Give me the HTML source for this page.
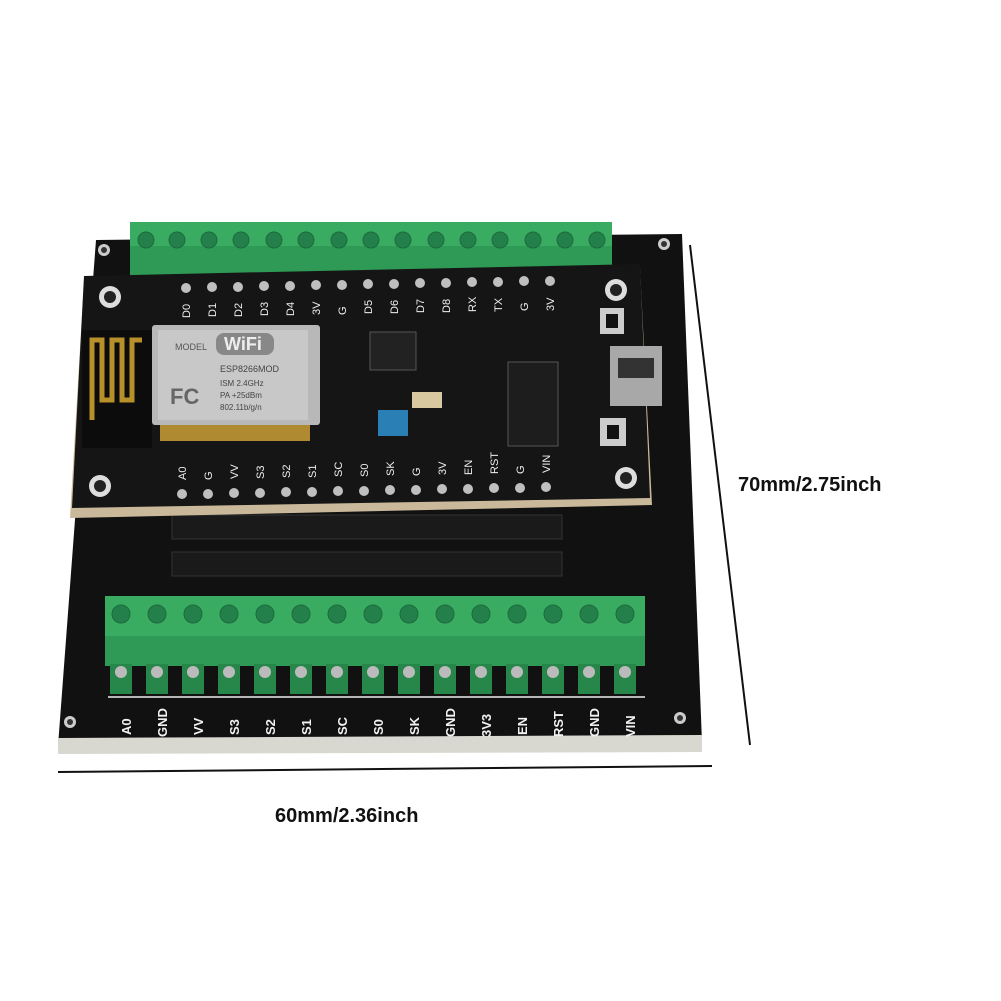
<!DOCTYPE html>
<html><head><meta charset="utf-8"><style>
html,body{margin:0;padding:0;background:#fff;}
svg{display:block}
text{font-family:"Liberation Sans",sans-serif;}
</style></head><body>
<svg width="1001" height="1001" viewBox="0 0 1001 1001" xmlns="http://www.w3.org/2000/svg">
<rect width="1001" height="1001" fill="#fff"/>
<!-- carrier board -->
<polygon points="96,240 682,234 702,742 58,746" fill="#111"/>
<polygon points="58,738 702,735 702,752 58,754" fill="#d8d8d0"/>
<circle cx="104" cy="250" r="6" fill="#ccc"/><circle cx="104" cy="250" r="3" fill="#333"/>
<circle cx="664" cy="244" r="6" fill="#ccc"/><circle cx="664" cy="244" r="3" fill="#333"/>
<circle cx="70" cy="722" r="6" fill="#ccc"/><circle cx="70" cy="722" r="3" fill="#333"/>
<circle cx="680" cy="718" r="6" fill="#ccc"/><circle cx="680" cy="718" r="3" fill="#333"/>
<!-- female headers -->
<rect x="172" y="515" width="390" height="24" fill="#1a1a1a" stroke="#333"/>
<rect x="172" y="552" width="390" height="24" fill="#1a1a1a" stroke="#333"/>
<!-- top terminal block -->
<rect x="130" y="222" width="482" height="56" fill="#2e9a55"/>
<rect x="130" y="222" width="482" height="24" fill="#3aac62"/>
<g fill="#24804a" stroke="#1c6a3c">
<circle cx="146" cy="240" r="8"/><circle cx="177" cy="240" r="8"/><circle cx="209" cy="240" r="8"/><circle cx="241" cy="240" r="8"/><circle cx="274" cy="240" r="8"/><circle cx="306" cy="240" r="8"/><circle cx="339" cy="240" r="8"/><circle cx="371" cy="240" r="8"/><circle cx="403" cy="240" r="8"/><circle cx="436" cy="240" r="8"/><circle cx="468" cy="240" r="8"/><circle cx="500" cy="240" r="8"/><circle cx="533" cy="240" r="8"/><circle cx="565" cy="240" r="8"/><circle cx="597" cy="240" r="8"/>
</g>
<!-- NodeMCU board -->
<polygon points="84,280 640,268 652,505 70,518" fill="#c9b99a"/>
<polygon points="84,276 640,264 650,498 72,508" fill="#151515"/>
<circle cx="110" cy="297" r="11" fill="#ddd"/><circle cx="110" cy="297" r="6" fill="#222"/>
<circle cx="616" cy="290" r="11" fill="#ddd"/><circle cx="616" cy="290" r="6" fill="#222"/>
<circle cx="100" cy="486" r="11" fill="#ddd"/><circle cx="100" cy="486" r="6" fill="#222"/>
<circle cx="626" cy="478" r="11" fill="#ddd"/><circle cx="626" cy="478" r="6" fill="#222"/>
<!-- antenna -->
<rect x="82" y="330" width="70" height="118" fill="#0c0c0c"/>
<path d="M92,420 v-80 h10 v60 h10 v-60 h10 v60 h10 v-60 h10" stroke="#b8902a" stroke-width="5" fill="none"/>
<!-- ESP module -->
<rect x="152" y="325" width="168" height="100" fill="#b8b8b8" rx="3"/>
<rect x="158" y="330" width="150" height="90" fill="#c8c8c8"/>
<text x="175" y="350" font-size="9" fill="#555">MODEL</text>
<rect x="216" y="333" width="58" height="22" rx="8" fill="#888"/>
<text x="224" y="350" font-size="18" font-weight="bold" fill="#eee">WiFi</text>
<text x="220" y="372" font-size="9" fill="#444">ESP8266MOD</text>
<text x="220" y="386" font-size="8" fill="#444">ISM 2.4GHz</text>
<text x="220" y="398" font-size="8" fill="#444">PA +25dBm</text>
<text x="220" y="410" font-size="8" fill="#444">802.11b/g/n</text>
<text x="170" y="404" font-size="22" font-weight="bold" fill="#666">FC</text>
<g fill="#b08a30"><rect x="160" y="425" width="150" height="16"/></g>
<!-- chips -->
<rect x="370" y="332" width="46" height="38" fill="#222" stroke="#555"/>
<rect x="508" y="362" width="50" height="84" fill="#1d1d1d" stroke="#555"/>
<rect x="610" y="346" width="52" height="60" fill="#a8a8a8"/>
<rect x="618" y="358" width="36" height="20" fill="#333"/>
<rect x="600" y="308" width="24" height="26" fill="#ccc"/><rect x="606" y="314" width="12" height="14" fill="#111"/>
<rect x="600" y="418" width="26" height="28" fill="#ccc"/><rect x="607" y="425" width="12" height="14" fill="#111"/>
<rect x="378" y="410" width="30" height="26" fill="#2a7fb5"/>
<rect x="412" y="392" width="30" height="16" fill="#d8c8a0"/>
<!-- header pins -->
<g fill="#bfbfbf">
<circle cx="186" cy="288" r="5"/><circle cx="212" cy="287" r="5"/><circle cx="238" cy="287" r="5"/><circle cx="264" cy="286" r="5"/><circle cx="290" cy="286" r="5"/><circle cx="316" cy="285" r="5"/><circle cx="342" cy="285" r="5"/><circle cx="368" cy="284" r="5"/><circle cx="394" cy="284" r="5"/><circle cx="420" cy="283" r="5"/><circle cx="446" cy="283" r="5"/><circle cx="472" cy="282" r="5"/><circle cx="498" cy="282" r="5"/><circle cx="524" cy="281" r="5"/><circle cx="550" cy="281" r="5"/>
<circle cx="182" cy="494" r="5"/><circle cx="208" cy="494" r="5"/><circle cx="234" cy="493" r="5"/><circle cx="260" cy="493" r="5"/><circle cx="286" cy="492" r="5"/><circle cx="312" cy="492" r="5"/><circle cx="338" cy="491" r="5"/><circle cx="364" cy="491" r="5"/><circle cx="390" cy="490" r="5"/><circle cx="416" cy="490" r="5"/><circle cx="442" cy="489" r="5"/><circle cx="468" cy="489" r="5"/><circle cx="494" cy="488" r="5"/><circle cx="520" cy="488" r="5"/><circle cx="546" cy="487" r="5"/>
</g>
<g font-size="11" fill="#eee">
<text transform="translate(190,318) rotate(-90)">D0</text><text transform="translate(216,317) rotate(-90)">D1</text><text transform="translate(242,317) rotate(-90)">D2</text><text transform="translate(268,316) rotate(-90)">D3</text><text transform="translate(294,316) rotate(-90)">D4</text><text transform="translate(320,315) rotate(-90)">3V</text><text transform="translate(346,315) rotate(-90)">G</text><text transform="translate(372,314) rotate(-90)">D5</text><text transform="translate(398,314) rotate(-90)">D6</text><text transform="translate(424,313) rotate(-90)">D7</text><text transform="translate(450,313) rotate(-90)">D8</text><text transform="translate(476,312) rotate(-90)">RX</text><text transform="translate(502,312) rotate(-90)">TX</text><text transform="translate(528,311) rotate(-90)">G</text><text transform="translate(554,311) rotate(-90)">3V</text>
<text transform="translate(186,480) rotate(-90)">A0</text><text transform="translate(212,480) rotate(-90)">G</text><text transform="translate(238,479) rotate(-90)">VV</text><text transform="translate(264,479) rotate(-90)">S3</text><text transform="translate(290,478) rotate(-90)">S2</text><text transform="translate(316,478) rotate(-90)">S1</text><text transform="translate(342,477) rotate(-90)">SC</text><text transform="translate(368,477) rotate(-90)">S0</text><text transform="translate(394,476) rotate(-90)">SK</text><text transform="translate(420,476) rotate(-90)">G</text><text transform="translate(446,475) rotate(-90)">3V</text><text transform="translate(472,475) rotate(-90)">EN</text><text transform="translate(498,474) rotate(-90)">RST</text><text transform="translate(524,474) rotate(-90)">G</text><text transform="translate(550,473) rotate(-90)">VIN</text>
</g>
<!-- bottom terminal block -->
<rect x="105" y="596" width="540" height="42" fill="#3aac62"/>
<rect x="105" y="636" width="540" height="30" fill="#2f9a55"/>
<g fill="#27864a">
<rect x="110" y="664" width="22" height="30"/><rect x="146" y="664" width="22" height="30"/><rect x="182" y="664" width="22" height="30"/><rect x="218" y="664" width="22" height="30"/><rect x="254" y="664" width="22" height="30"/><rect x="290" y="664" width="22" height="30"/><rect x="326" y="664" width="22" height="30"/><rect x="362" y="664" width="22" height="30"/><rect x="398" y="664" width="22" height="30"/><rect x="434" y="664" width="22" height="30"/><rect x="470" y="664" width="22" height="30"/><rect x="506" y="664" width="22" height="30"/><rect x="542" y="664" width="22" height="30"/><rect x="578" y="664" width="22" height="30"/><rect x="614" y="664" width="22" height="30"/>
</g>
<g fill="#24804a" stroke="#1c6a3c">
<circle cx="121" cy="614" r="9"/><circle cx="157" cy="614" r="9"/><circle cx="193" cy="614" r="9"/><circle cx="229" cy="614" r="9"/><circle cx="265" cy="614" r="9"/><circle cx="301" cy="614" r="9"/><circle cx="337" cy="614" r="9"/><circle cx="373" cy="614" r="9"/><circle cx="409" cy="614" r="9"/><circle cx="445" cy="614" r="9"/><circle cx="481" cy="614" r="9"/><circle cx="517" cy="614" r="9"/><circle cx="553" cy="614" r="9"/><circle cx="589" cy="614" r="9"/><circle cx="625" cy="614" r="9"/>
</g>
<g fill="#bbb"><circle cx="121" cy="672" r="6"/><circle cx="157" cy="672" r="6"/><circle cx="193" cy="672" r="6"/><circle cx="229" cy="672" r="6"/><circle cx="265" cy="672" r="6"/><circle cx="301" cy="672" r="6"/><circle cx="337" cy="672" r="6"/><circle cx="373" cy="672" r="6"/><circle cx="409" cy="672" r="6"/><circle cx="445" cy="672" r="6"/><circle cx="481" cy="672" r="6"/><circle cx="517" cy="672" r="6"/><circle cx="553" cy="672" r="6"/><circle cx="589" cy="672" r="6"/><circle cx="625" cy="672" r="6"/></g>
<polyline points="108,697 645,697" stroke="#eee" stroke-width="1.5" fill="none"/>
<g font-size="13" font-weight="bold" fill="#f2f2f2">
<text transform="translate(131,735) rotate(-90)">A0</text><text transform="translate(167,737) rotate(-90)">GND</text><text transform="translate(203,735) rotate(-90)">VV</text><text transform="translate(239,735) rotate(-90)">S3</text><text transform="translate(275,735) rotate(-90)">S2</text><text transform="translate(311,735) rotate(-90)">S1</text><text transform="translate(347,735) rotate(-90)">SC</text><text transform="translate(383,735) rotate(-90)">S0</text><text transform="translate(419,735) rotate(-90)">SK</text><text transform="translate(455,737) rotate(-90)">GND</text><text transform="translate(491,737) rotate(-90)">3V3</text><text transform="translate(527,735) rotate(-90)">EN</text><text transform="translate(563,737) rotate(-90)">RST</text><text transform="translate(599,737) rotate(-90)">GND</text><text transform="translate(635,737) rotate(-90)">VIN</text>
</g>
<!-- dimension lines -->
<line x1="690" y1="245" x2="750" y2="745" stroke="#111" stroke-width="2"/>
<line x1="58" y1="772" x2="712" y2="766" stroke="#111" stroke-width="2"/>
<text x="738" y="491" font-size="20" font-weight="bold" fill="#111">70mm/2.75inch</text>
<text x="275" y="822" font-size="20" font-weight="bold" fill="#111">60mm/2.36inch</text>
</svg>
</body></html>
